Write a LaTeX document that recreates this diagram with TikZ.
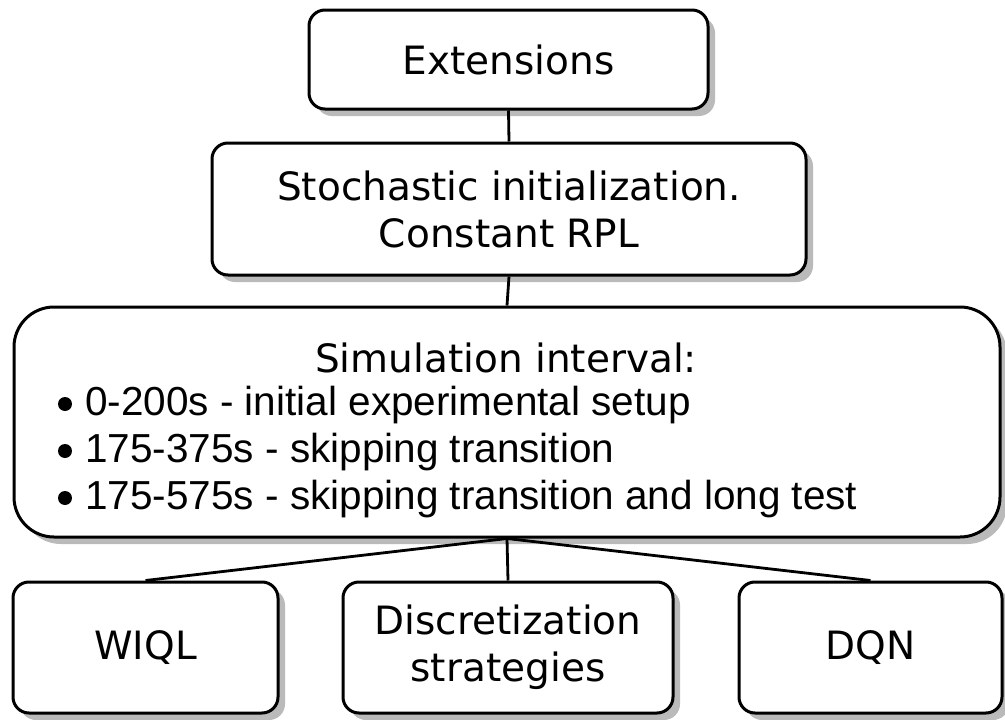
\documentclass[tikz,border=0pt]{standalone}
\usepackage{fontspec}
\setmainfont{DejaVu Sans}
\newfontfamily\listfont{Liberation Sans}
\usetikzlibrary{shadows}

\begin{document}
\begin{tikzpicture}[x=1pt, y=-1pt,
  box/.style={draw=black, line width=3pt, fill=white, rounded corners=16pt,
    drop shadow={shadow xshift=7pt, shadow yshift=-7pt, fill=black!27, opacity=1},
    inner sep=0pt, align=center, font=\fontsize{39}{47}\selectfont},
  title/.style={font=\fontsize{39}{47}\selectfont, inner sep=0pt},
  item/.style={font=\listfont\fontsize{40.5}{47}\selectfont, inner sep=0pt},
  bullet/.style={circle, fill=black, inner sep=0pt, minimum size=14pt},
  link/.style={line width=2.8pt}]

\useasboundingbox (0,0) rectangle (1005,720);

% top of the tree
\node[box, minimum width=399pt, minimum height=99pt] (ext) at (508.5,59.5) {Extensions};
\node[box, minimum width=594pt, minimum height=132pt] (sto) at (509,209)
  {Stochastic initialization.\\Constant RPL};

% simulation intervals
\node[box, rounded corners=40pt, minimum width=986pt, minimum height=230pt] (sim) at (507,422) {};
\node[title, anchor=base] (simtitle) at (506,372) {Simulation interval:};
\node[bullet] (dot1) at (65,404) {};
\node[item, anchor=base west] (it1) at (85,415) {0-200s - initial experimental setup};
\node[bullet] (dot2) at (65,451) {};
\node[item, anchor=base west] (it2) at (85,462) {175-375s - skipping transition};
\node[bullet] (dot3) at (65,498) {};
\node[item, anchor=base west] (it3) at (85,509) {175-575s - skipping transition and long test};

% methods
\node[box, minimum width=265pt, minimum height=131pt] (wiql) at (145.5,647.5) {WIQL};
\node[box, minimum width=330pt, minimum height=131pt] (disc) at (508,647.5)
  {Discretization\\strategies};
\node[box, minimum width=263pt, minimum height=131pt] (dqn) at (870.5,647.5) {DQN};

% connectors
\draw[link] (ext.south) -- (sto.north);
\draw[link] (sto.south) -- (sim.north);
\draw[link] (sim.south) -- (wiql.north);
\draw[link] (sim.south) -- (disc.north);
\draw[link] (sim.south) -- (dqn.north);
\end{tikzpicture}
\end{document}
